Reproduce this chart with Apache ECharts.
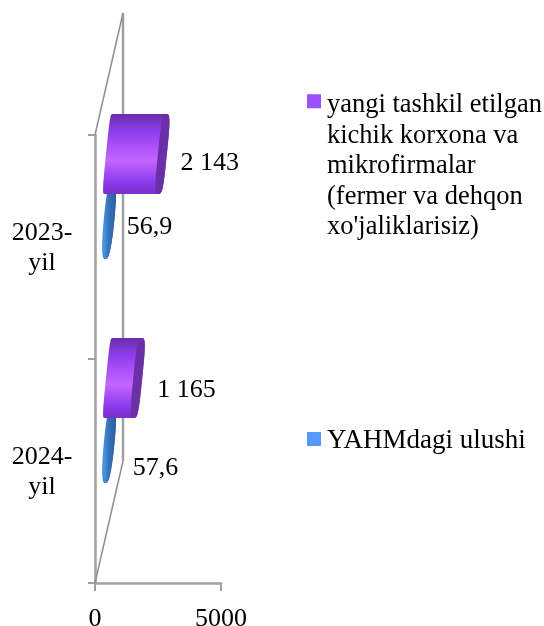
<!DOCTYPE html>
<html><head><meta charset="utf-8">
<style>html,body{margin:0;padding:0;background:#fff}#c{width:544px;height:626px}</style>
<script src="https://cdn.jsdelivr.net/npm/echarts@6/dist/echarts.min.js"></script>
</head><body><div id="c"></div>
<script>
var categories = ['2023-\nyil', '2024-\nyil'];
var newFirmsName = "yangi tashkil etilgan\nkichik korxona va\nmikrofirmalar\n(fermer va dehqon\nxo'jaliklarisiz)";
var shareName = 'YAHMdagi ulushi';
var newFirms = [2143, 1165];
var gdpShare = [56.9, 57.6];
var xTickLabels = [0, 5000];

var FONT = '"Liberation Serif","Times New Roman",serif';
var DEPTH_X = 28, DEPTH_Y = 122;
var AXIS_COLOR = '#a0a0a0';
var labelNudgePurple = [[18, 9], [19.6, 12]];
var labelNudgeBlue = [[17, 8], [23, 25]];

function fmtThousands(v) { return String(v).replace(/\B(?=(\d{3})+$)/g, ' '); }
function fmtDecimal(v) { return String(v).replace('.', ','); }

function ell(cx, cy, ax, ay, w, from, to, e) {
  var pts = [], n = 24;
  for (var i = 0; i <= n; i++) {
    var t = from + (to - from) * i / n, s = Math.sin(t), c = Math.cos(t);
    var along = Math.sign(s) * Math.pow(Math.abs(s), e);
    var across = Math.sign(c) * Math.pow(Math.abs(c), e);
    pts.push([cx + ax * along + w * across, cy + ay * along]);
  }
  return pts;
}
function cylinder(api, opts) {
  var cat = api.value(0), val = api.value(1);
  var p0 = api.coord([0, cat]), p1 = api.coord([val, cat]);
  var cy = p0[1] - DEPTH_Y / 2 + opts.dy;
  var lx = p0[0] + DEPTH_X / 2 - 0.6, rx = lx + (p1[0] - p0[0]);
  var ax = opts.ax, ay = -40;
  var PI = Math.PI, e = opts.e;
  var body = ell(lx, cy, ax, ay, opts.wl, PI / 2, 3 * PI / 2, e)
    .concat(ell(rx, cy, ax, ay, opts.wr, -PI / 2, PI / 2, e));
  var cap = ell(rx, cy, ax, ay, opts.wc, 0, 2 * PI, e);
  var nudge = opts.nudge[cat];
  return {
    type: 'group',
    children: [
      { type: 'polygon', shape: { points: body }, style: { fill: opts.fill } },
      { type: 'polygon', shape: { points: cap }, style: { fill: opts.capFill } },
      { type: 'text', style: {
          text: opts.fmt(val), x: rx + nudge[0], y: cy + nudge[1],
          font: '26px ' + FONT, fill: '#000', align: 'left', verticalAlign: 'middle'
      } }
    ]
  };
}
var purpleFill = { type: 'linear', x: 0, y: 0, x2: 0, y2: 1, colorStops: [
  { offset: 0, color: '#6a2ea8' }, { offset: 0.22, color: '#8f3cf0' },
  { offset: 0.58, color: '#c465ff' }, { offset: 0.85, color: '#8a3bec' },
  { offset: 1, color: '#7a30c8' }] };
var blueFill = { type: 'linear', x: 0, y: 0, x2: 1, y2: 0, colorStops: [
  { offset: 0, color: '#4a9ae8' }, { offset: 0.4, color: '#3672b8' },
  { offset: 1, color: '#2f5e9c' }] };

var option = {
  animation: false,
  backgroundColor: '#fff',
  grid: { left: 95, right: 323, top: 135, bottom: 43, outerBoundsMode: 'none' },
  xAxis: {
    type: 'value', min: 0, max: 5000, interval: 5000,
    axisLine: { show: true, lineStyle: { color: AXIS_COLOR, width: 2.5 } },
    axisTick: { show: true, length: 8, lineStyle: { color: AXIS_COLOR, width: 2 } },
    splitLine: { show: false },
    axisLabel: { color: '#000', fontFamily: FONT, fontSize: 26, margin: 23,
      formatter: function (v) { return xTickLabels.indexOf(v) >= 0 ? String(v) : ''; } }
  },
  yAxis: {
    type: 'category', inverse: true, data: categories,
    axisLine: { show: true, onZero: false, lineStyle: { color: AXIS_COLOR, width: 2.5 } },
    axisTick: { show: true, length: 7, lineStyle: { color: AXIS_COLOR, width: 2 } },
    axisLabel: { color: '#000', fontFamily: FONT, fontSize: 26, align: 'center', margin: 53,
      formatter: function (v) {
        var parts = v.split('\n');
        return '{a|' + parts[0] + '}\n{b|' + parts[1] + '}';
      },
      rich: {
        a: { fontFamily: FONT, fontSize: 26, color: '#000', lineHeight: 33, padding: [6, 0, 0, 0] },
        b: { fontFamily: FONT, fontSize: 26, color: '#000', lineHeight: 33 }
      } }
  },
  legend: [
    { left: 307, top: 90, padding: 0, orient: 'vertical', selectedMode: false, data: [newFirmsName],
      itemWidth: 15, itemHeight: 152,
      icon: 'path://M0 4H14V18H0Z M0 0L0 0 M15 152L15 152',
      textStyle: { color: '#000', fontFamily: FONT, fontSize: 26.5, lineHeight: 30.5 } },
    { left: 307, top: 426, padding: 0, orient: 'vertical', selectedMode: false, data: [shareName],
      itemWidth: 15, itemHeight: 30,
      icon: 'path://M0 6H14V20H0Z M0 0L0 0 M15 30L15 30',
      textStyle: { color: '#000', fontFamily: FONT, fontSize: 27, lineHeight: 30 } }
  ],
  series: [
    { type: 'custom', name: 'wall', silent: true, z: 1, clip: false, data: [0],
      renderItem: function (params) {
        var g = params.coordSys;
        var x = g.x, y = g.y, h = g.height;
        return { type: 'group', children: [
          { type: 'polyline', shape: { points: [[x + DEPTH_X, y - DEPTH_Y], [x + DEPTH_X, y + h - DEPTH_Y]] },
            style: { stroke: AXIS_COLOR, lineWidth: 2.5, fill: null } },
          { type: 'polyline', shape: { points: [[x, y], [x + DEPTH_X, y - DEPTH_Y]] },
            style: { stroke: '#8f8f8f', lineWidth: 1.5, fill: null } },
          { type: 'polyline', shape: { points: [[x + DEPTH_X, y + h - DEPTH_Y], [x, y + h]] },
            style: { stroke: '#8f8f8f', lineWidth: 1.5, fill: null } }
        ] };
      } },
    { type: 'custom', name: shareName, z: 2, clip: false,
      itemStyle: { color: '#5599ff' }, encode: { x: 1, y: 0 },
      data: gdpShare.map(function (v, i) { return [i, v]; }),
      renderItem: function (params, api) {
        return cylinder(api, { ax: 3.8, e: 0.85, dy: 33, wl: 4.6, wr: 4.6, wc: 4.6, fill: blueFill, capFill: blueFill,
          nudge: labelNudgeBlue, fmt: fmtDecimal });
      } },
    { type: 'custom', name: newFirmsName, z: 3, clip: false,
      itemStyle: { color: '#9d4ffb' }, encode: { x: 1, y: 0 },
      data: newFirms.map(function (v, i) { return [i, v]; }),
      renderItem: function (params, api) {
        return cylinder(api, { ax: 4.0, e: 0.55, dy: -32, wl: 2.4, wr: 4.5, wc: 4.5, fill: purpleFill, capFill: '#6b2fa6',
          nudge: labelNudgePurple, fmt: fmtThousands });
      } }
  ]
};
echarts.init(document.getElementById('c'), null, { renderer: 'canvas' }).setOption(option);
</script></body></html>
